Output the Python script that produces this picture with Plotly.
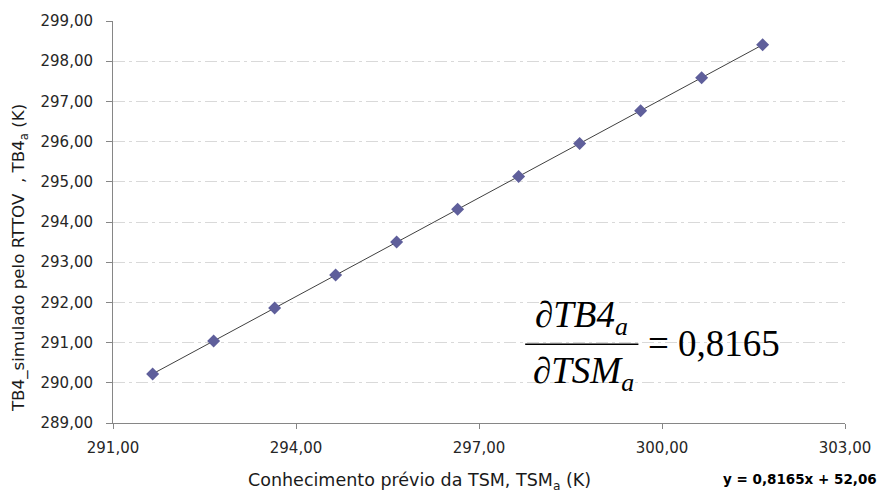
import numpy as np
import plotly.graph_objects as go

# Data
tsm_a = [291.65, 292.65, 293.65, 294.65, 295.65, 296.65, 297.65, 298.65, 299.65, 300.65, 301.65]
tb4_a = [290.22, 291.04, 291.86, 292.68, 293.50, 294.32, 295.13, 295.95, 296.77, 297.59, 298.41]
x_ticks = [291, 294, 297, 300, 303]
y_ticks = [289, 290, 291, 292, 293, 294, 295, 296, 297, 298, 299]

W, H = 883, 499
L, R, T, B = 113, 33, 15, 76
PX0, PX1 = L, W - R
PY0, PY1 = T, H - B


def px(xp):
    return (xp - PX0) / (PX1 - PX0)


def py(yp):
    return (PY1 - yp) / (PY1 - PY0)


slope, icpt = np.polyfit(tsm_a, tb4_a, 1)
fit_x = [min(tsm_a), max(tsm_a)]
fit_y = [slope * v + icpt for v in fit_x]

fig = go.Figure()
fig.add_trace(go.Scatter(x=fit_x, y=fit_y, mode="lines",
                         line=dict(color="#404040", width=1), hoverinfo="skip"))
fig.add_trace(go.Scatter(x=tsm_a, y=tb4_a, mode="markers",
                         marker=dict(symbol="diamond", size=10, color="#5f5f9b",
                                     line=dict(width=0))))

axis_font = dict(family="DejaVu Sans", size=15, color="#262626")
title_font = dict(family="DejaVu Sans", size=17.5, color="#1a1a1a")

fig.update_layout(
    width=W, height=H,
    margin=dict(l=L, r=R, t=T, b=B),
    plot_bgcolor="white", paper_bgcolor="white",
    showlegend=False,
    separators=",.",
    xaxis=dict(range=[291, 303], tickvals=x_ticks, tickformat=".2f",
               showgrid=False, zeroline=False,
               showline=True, linecolor="#868686", linewidth=1,
               ticks="outside", ticklen=5, tickcolor="#868686",
               tickfont=axis_font, ticklabelstandoff=6),
    yaxis=dict(range=[289, 299], tickvals=y_ticks, tickformat=".2f",
               showgrid=True, gridcolor="#d9d9d9", gridwidth=1,
               griddash="12px,4px,3px,4px",
               zeroline=False,
               showline=True, linecolor="#868686", linewidth=1,
               ticks="outside", ticklen=6, tickcolor="#868686",
               tickfont=axis_font, ticklabelstandoff=10),
)

anns = []
anns.append(dict(text="Conhecimento prévio da TSM, TSM<sub>a</sub> (K)",
                 x=px(422), y=py(482), xref="paper", yref="paper",
                 xanchor="center", yanchor="middle", showarrow=False,
                 font=title_font))
anns.append(dict(text="TB4_simulado pelo RTTOV&nbsp; , TB4<sub>a</sub> (K)",
                 x=px(19), y=py(256), xref="paper", yref="paper",
                 xanchor="center", yanchor="middle", showarrow=False, textangle=-90,
                 font=dict(family="DejaVu Sans", size=16.7, color="#1a1a1a")))
anns.append(dict(text="<b>y = 0,8165x + 52,06</b>",
                 x=px(884), y=py(480), xref="paper", yref="paper",
                 xanchor="right", yanchor="middle", showarrow=False,
                 font=dict(family="DejaVu Sans", size=13.5, color="#000000")))

eq_font = dict(family="Liberation Serif", size=37, color="#000000")
anns.append(dict(text="<i>∂TB4</i><sub><i>a</i></sub>",
                 x=px(585), y=py(316), xref="paper", yref="paper",
                 xanchor="center", yanchor="middle", showarrow=False, font=eq_font))
anns.append(dict(text="<i>∂TSM</i><sub><i>a</i></sub>",
                 x=px(587), y=py(373), xref="paper", yref="paper",
                 xanchor="center", yanchor="middle", showarrow=False, font=eq_font))
anns.append(dict(text="= 0,8165",
                 x=px(650), y=py(342), xref="paper", yref="paper",
                 xanchor="left", yanchor="middle", showarrow=False, font=eq_font))
fig.update_layout(annotations=anns)

fig.add_shape(type="line", xref="paper", yref="paper",
              x0=px(528), x1=px(642), y0=py(343), y1=py(343),
              line=dict(color="#000000", width=1.5))

fig.write_html("out.html")
